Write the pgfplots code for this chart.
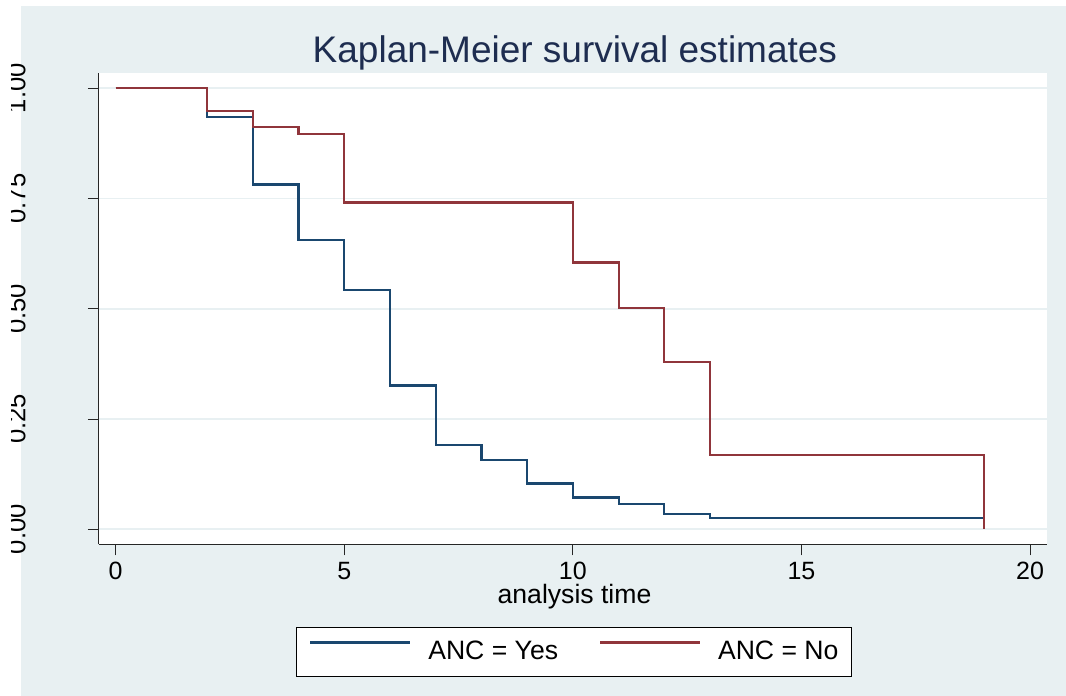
\documentclass[border=0pt]{standalone}
\usepackage{fontspec}
\setmainfont{Liberation Sans}
\usepackage{pgfplots}
\pgfplotsset{compat=1.18}
\definecolor{bgc}{RGB}{232,240,242}
\definecolor{grd}{RGB}{232,240,242}
\definecolor{snavy}{RGB}{26,71,111}
\definecolor{smaroon}{RGB}{144,53,59}
\definecolor{ttl}{RGB}{30,45,80}
\begin{document}
\begin{tikzpicture}
\path[use as bounding box] (0,0) rectangle (533pt,348pt);
\clip (5.6pt,0) rectangle (533pt,348pt);
\fill[bgc] (10.5pt,0) rectangle (533pt,345pt);
\begin{axis}[
  at={(49.5pt,75.85pt)}, anchor=south west,
  scale only axis, width=474pt, height=235.65pt,
  xmin=-0.365, xmax=20.37, ymin=-0.034, ymax=1.0347,
  axis x line*=bottom, axis y line*=left,
  axis line style={black!85, line width=0.5pt, -},
  axis background/.style={fill=white},
  tick align=outside, major tick length=5.5pt,
  tick style={black!85, line width=0.5pt},
  xtick={0,5,10,15,20}, ytick={0,0.25,0.5,0.75,1},
  yticklabels={0.00,0.25,0.50,0.75,1.00},
  /pgf/number format/assume math mode=true,
  ymajorgrids, major grid style={grd, line width=0.9pt},
  xticklabel style={font=\fontsize{12.5}{14}\selectfont, inner sep=0pt, anchor=base, yshift=-12pt},
  yticklabel style={font=\fontsize{12.8}{14}\selectfont, inner sep=0pt, rotate=90, anchor=south, yshift=31pt},
  title={Kaplan-Meier survival estimates},
  title style={font=\fontsize{18.5}{22}\selectfont, text=ttl, at={(0.502,1.019)}, anchor=base, inner sep=0pt, yshift=-5pt},
  xlabel={analysis time},
  xlabel style={font=\fontsize{13.3}{15}\selectfont, at={(0.5016,-0.1252)}, anchor=base, inner sep=0pt},
  legend style={at={(0.501,-0.2285)}, anchor=center, draw=black, line width=0.5pt, fill=white,
    font=\fontsize{13.3}{15}\selectfont, legend columns=2,
    inner xsep=6.5pt, inner ysep=7pt,
    nodes={inner sep=0pt},
    /tikz/every odd column/.append style={column sep=8.35pt},
    /tikz/every even column/.append style={column sep=20.5pt}},
  legend image code/.code={\draw[#1] (0pt,4.7pt) -- (50pt,4.7pt);},
  legend cell align=left,
]
\addplot[const plot, snavy, line width=1.1pt] coordinates {
(0,1) (2,0.935) (3,0.782) (4,0.656) (5,0.543) (6,0.326) (7,0.191) (8,0.157) (9,0.104) (10,0.072) (11,0.057) (12,0.035) (13,0.025) (19,0.025)};
\addlegendentry{ANC = Yes}
\addplot[const plot, smaroon, line width=1.1pt] coordinates {
(0,1) (2,0.949) (3,0.912) (4,0.896) (5,0.741) (10,0.605) (11,0.501) (12,0.379) (13,0.169) (19,0)};
\addlegendentry{ANC = No}
\end{axis}
\end{tikzpicture}
\end{document}
